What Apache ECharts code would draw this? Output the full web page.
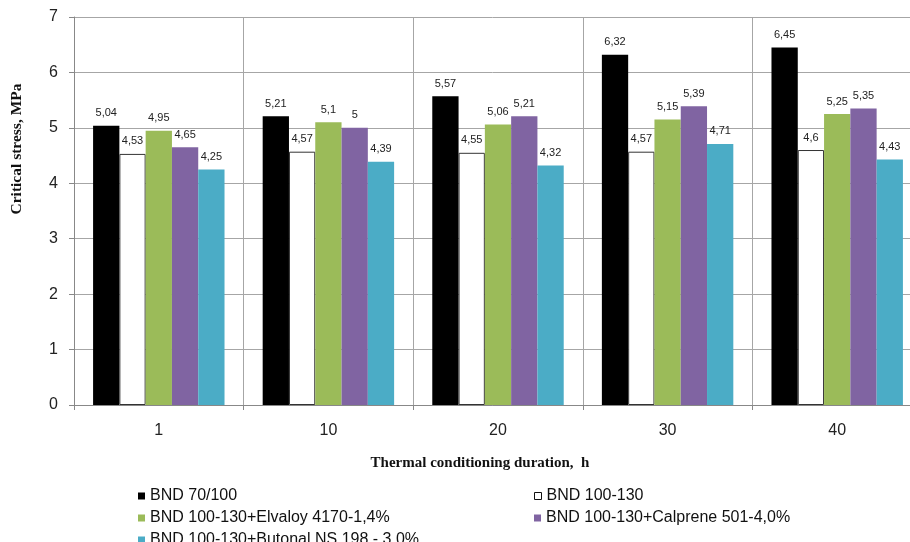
<!DOCTYPE html>
<html>
<head>
<meta charset="utf-8">
<script src="https://cdn.jsdelivr.net/npm/echarts@6/dist/echarts.min.js"></script>
<style>html,body{margin:0;padding:0;background:#fff}#c{width:910px;height:542px}</style>
</head>
<body>
<div id="c"></div>
<script>
const categories = ['1', '10', '20', '30', '40'];
const seriesNames = [
  'BND 70/100',
  'BND 100-130',
  'BND 100-130+Elvaloy 4170-1,4%',
  'BND 100-130+Calprene 501-4,0%',
  'BND 100-130+Butonal NS 198 - 3.0%'
];
const bnd70 = [5.04, 5.21, 5.57, 6.32, 6.45];
const bnd100 = [4.53, 4.57, 4.55, 4.57, 4.6];
const elvaloy = [4.95, 5.1, 5.06, 5.15, 5.25];
const calprene = [4.65, 5, 5.21, 5.39, 5.35];
const butonal = [4.25, 4.39, 4.32, 4.71, 4.43];
const yTicks = [0, 1, 2, 3, 4, 5, 6, 7];

const values = [bnd70, bnd100, elvaloy, calprene, butonal];
const colors = ['#000000', '#ffffff', '#9BBB59', '#8064A2', '#4BACC6'];

const chart = echarts.init(document.getElementById('c'), null, {renderer: 'canvas'});
const series = values.map((v, i) => ({
  name: seriesNames[i],
  type: 'bar',
  data: v,
  barGap: '0%',
  barCategoryGap: '22.5%',
  itemStyle: {
    color: colors[i],
    borderColor: i === 1 ? '#333333' : colors[i],
    borderWidth: i === 1 ? 1 : 0
  },
  label: {
    show: true,
    position: 'top',
    distance: 7,
    fontFamily: 'Liberation Sans, Arial, sans-serif',
    fontSize: 11,
    color: '#222',
    formatter: p => String(p.value).replace('.', ',')
  }
}));

const legendText = {fontFamily: 'Liberation Sans, Arial, sans-serif', fontSize: 16, color: '#111'};
// legend slot positions: [left, top] for each series
const legendPos = [[138, 488], [534, 488], [138, 510], [534, 510], [138, 532]];
const legends = seriesNames.map((n, i) => ({
  orient: 'horizontal', left: legendPos[i][0], top: legendPos[i][1],
  itemWidth: 7, itemHeight: 7, padding: 0,
  textStyle: legendText, selectedMode: false,
  data: [{
    name: n, icon: 'rect',
    itemStyle: {color: colors[i], borderColor: i === 1 ? '#111' : colors[i], borderWidth: i === 1 ? 1 : 0}
  }]
}));

chart.setOption({
  animation: false,
  grid: {left: 74, top: 17, width: 848, height: 388, containLabel: false, outerBoundsMode: 'none'},
  legend: legends,
  xAxis: {
    type: 'category',
    data: categories,
    axisLine: {lineStyle: {color: '#888', width: 1}},
    axisTick: {show: true, length: 5, lineStyle: {color: '#888'}},
    axisLabel: {fontFamily: 'Liberation Sans, Arial, sans-serif', fontSize: 16, color: '#222', margin: 18},
    splitLine: {show: true, lineStyle: {color: '#a6a6a6', width: 1}}
  },
  yAxis: {
    type: 'value',
    min: yTicks[0],
    max: yTicks[yTicks.length - 1],
    interval: 1,
    axisLine: {show: true, lineStyle: {color: '#888', width: 1}},
    axisTick: {show: true, length: 5, lineStyle: {color: '#888'}},
    axisLabel: {fontFamily: 'Liberation Sans, Arial, sans-serif', fontSize: 16, color: '#222', margin: 16},
    splitLine: {show: true, lineStyle: {color: '#a6a6a6', width: 1}}
  },
  graphic: [{
    type: 'text',
    x: 480,
    y: 456,
    style: {
      text: 'Thermal conditioning duration,  h',
      font: 'bold 15px "Liberation Serif", "Times New Roman", serif',
      fill: '#111',
      textAlign: 'center'
    }
  }, {
    type: 'text',
    x: 17,
    y: 149,
    rotation: Math.PI / 2,
    style: {
      text: 'Critical stress, MPa',
      font: 'bold 15.5px "Liberation Serif", "Times New Roman", serif',
      fill: '#111',
      textAlign: 'center',
      textVerticalAlign: 'middle'
    }
  }],
  series: series
});
</script>
</body>
</html>
